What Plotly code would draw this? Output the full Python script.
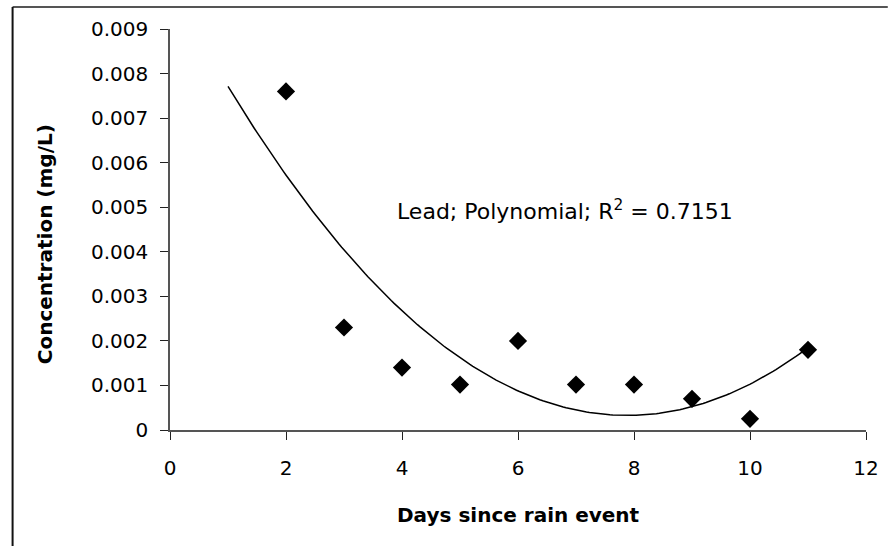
import numpy as np
import plotly.graph_objects as go

# Lead concentration measured on each day after the rain event
days = [2, 3, 4, 5, 6, 7, 8, 9, 10, 11]
lead_mg_l = [0.0076, 0.0023, 0.0014, 0.00102, 0.0020, 0.00102, 0.00102, 0.0007, 0.00025, 0.0018]

x_ticks = [0, 2, 4, 6, 8, 10, 12]
y_ticks = [0, 0.001, 0.002, 0.003, 0.004, 0.005, 0.006, 0.007, 0.008, 0.009]
y_tick_text = ["0", "0.001", "0.002", "0.003", "0.004", "0.005", "0.006", "0.007", "0.008", "0.009"]

trend_label = "Lead; Polynomial; R<sup>2</sup> = 0.7151"
trend_x_start, trend_x_end = 1, 11

# Second-order polynomial trendline fitted to the measurements
coef = np.polyfit(days, lead_mg_l, 2)
tx = np.linspace(trend_x_start, trend_x_end, 200)
ty = np.polyval(coef, tx)

FONT = "DejaVu Sans, Verdana, sans-serif"

fig = go.Figure()
fig.add_trace(go.Scatter(
    x=tx, y=ty, mode="lines",
    line=dict(color="black", width=1.5),
    hoverinfo="skip", showlegend=False,
))
fig.add_trace(go.Scatter(
    x=days, y=lead_mg_l, mode="markers",
    marker=dict(symbol="diamond", size=14, color="black"),
    showlegend=False,
))

W, H = 891, 546
L, R, T, B = 170, 18, 29, 116
pw, ph = W - L - R, H - T - B

def px_x(p):
    return (p - L) / pw

def px_y(p):
    return (H - B - p) / ph

fig.update_layout(
    width=W, height=H,
    margin=dict(l=L, r=R, t=T, b=B),
    paper_bgcolor="white", plot_bgcolor="white",
    font=dict(family=FONT, size=20, color="black"),
    xaxis=dict(
        range=[0, 12], tickvals=x_ticks, ticks="outside", ticklen=8,
        tickcolor="#222", showline=True, linecolor="#555", linewidth=1.5,
        showgrid=False, zeroline=False, ticklabelstandoff=11,
        tickfont=dict(family=FONT, size=20),
    ),
    yaxis=dict(
        range=[0, 0.009], tickvals=y_ticks, ticktext=y_tick_text,
        ticks="outside", ticklen=8, tickcolor="#222",
        showline=True, linecolor="#555", linewidth=1.5,
        showgrid=False, zeroline=False, ticklabelstandoff=8,
        tickfont=dict(family=FONT, size=20),
    ),
    annotations=[
        dict(x=3.875, y=0.00494, xref="x", yref="y", text=trend_label,
             xanchor="left", yanchor="middle",
             showarrow=False, font=dict(family=FONT, size=22)),
        dict(x=0.5, y=px_y(515), xref="paper", yref="paper",
             xanchor="center", yanchor="middle",
             text="<b>Days since rain event</b>", showarrow=False,
             font=dict(family=FONT, size=20)),
        dict(x=px_x(44), y=px_y(244), xref="paper", yref="paper",
             xanchor="center", yanchor="middle",
             text="<b>Concentration (mg/L)</b>", textangle=-90, showarrow=False,
             font=dict(family=FONT, size=20)),
    ],
    shapes=[
        # outer chart frame (top and left edges)
        dict(type="line", xref="paper", yref="paper",
             x0=px_x(11), x1=px_x(895), y0=px_y(7), y1=px_y(7),
             line=dict(color="#555", width=2)),
        dict(type="line", xref="paper", yref="paper",
             x0=px_x(11), x1=px_x(11), y0=px_y(7), y1=px_y(550),
             line=dict(color="#111", width=2)),
    ],
)

fig.write_html("out.html")
